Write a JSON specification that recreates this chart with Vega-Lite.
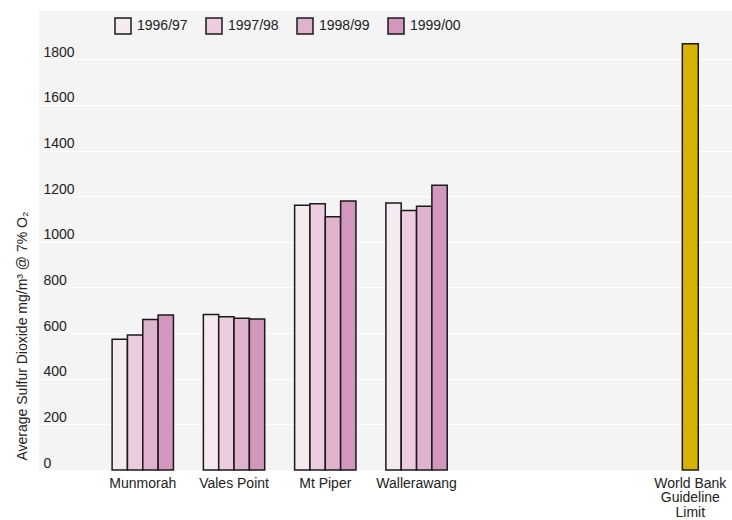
{
  "$schema": "https://vega.github.io/schema/vega-lite/v6.json",
  "width": 693,
  "height": 459,
  "autosize": {"type": "none"},
  "padding": {"left": 39, "top": 11, "right": 0, "bottom": 50},
  "background": "white",
  "config": {
    "font": "Liberation Sans",
    "view": {"fill": "#f4f4f4", "stroke": null},
    "axis": {"labelColor": "#222222", "titleColor": "#222222", "labelFontSize": 14, "titleFontSize": 14, "titleFontWeight": "normal"},
    "legend": {"labelColor": "#222222", "labelFontSize": 14}
  },
  "datasets": {
    "plants": [
      {"plant": "Munmorah", "year": "1996/97", "value": 573},
      {"plant": "Munmorah", "year": "1997/98", "value": 592},
      {"plant": "Munmorah", "year": "1998/99", "value": 660},
      {"plant": "Munmorah", "year": "1999/00", "value": 679},
      {"plant": "Vales Point", "year": "1996/97", "value": 682},
      {"plant": "Vales Point", "year": "1997/98", "value": 672},
      {"plant": "Vales Point", "year": "1998/99", "value": 665},
      {"plant": "Vales Point", "year": "1999/00", "value": 662},
      {"plant": "Mt Piper", "year": "1996/97", "value": 1160},
      {"plant": "Mt Piper", "year": "1997/98", "value": 1167},
      {"plant": "Mt Piper", "year": "1998/99", "value": 1110},
      {"plant": "Mt Piper", "year": "1999/00", "value": 1179},
      {"plant": "Wallerawang", "year": "1996/97", "value": 1170},
      {"plant": "Wallerawang", "year": "1997/98", "value": 1138},
      {"plant": "Wallerawang", "year": "1998/99", "value": 1156},
      {"plant": "Wallerawang", "year": "1999/00", "value": 1248}
    ],
    "limit": [
      {"plant": "World Bank Guideline Limit", "value": 1868}
    ]
  },
  "layer": [
    {
      "data": {"name": "plants"},
      "mark": {"type": "bar", "stroke": "#1a1a1a", "strokeWidth": 1.5},
      "encoding": {
        "x": {
          "field": "plant",
          "type": "nominal",
          "title": null,
          "scale": {
            "domain": ["Munmorah", "Vales Point", "Mt Piper", "Wallerawang", " ", "  ", "World Bank Guideline Limit"],
            "paddingInner": 0.328,
            "paddingOuter": 0.461,
            "align": 0.869
          },
          "axis": {
            "ticks": false,
            "domain": false,
            "grid": false,
            "labelAngle": 0,
            "labelPadding": 6,
            "labelLineHeight": 14.5,
            "labelExpr": "datum.value == 'World Bank Guideline Limit' ? ['World Bank', 'Guideline', 'Limit'] : datum.value"
          }
        },
        "xOffset": {
          "field": "year",
          "type": "nominal",
          "scale": {"paddingInner": 0, "paddingOuter": 0}
        },
        "y": {
          "field": "value",
          "type": "quantitative",
          "title": "Average Sulfur Dioxide mg/m³ @ 7% O₂",
          "scale": {"domain": [0, 2012], "nice": false},
          "axis": {
            "values": [0, 200, 400, 600, 800, 1000, 1200, 1400, 1600, 1800],
            "format": "d",
            "ticks": false,
            "domain": false,
            "gridColor": "white",
            "gridWidth": 1,
            "gridOpacity": 1,
            "labelAlign": "left",
            "labelPadding": -4,
            "labelBaseline": "alphabetic",
            "labelOffset": -3,
            "titleAngle": -90,
            "titleX": -17,
            "titleY": 449,
            "titleAlign": "left",
            "titleBaseline": "middle"
          }
        },
        "color": {
          "field": "year",
          "type": "nominal",
          "scale": {
            "domain": ["1996/97", "1997/98", "1998/99", "1999/00"],
            "range": ["#f6eaf1", "#ecccdf", "#dfb2cd", "#d396bd"]
          },
          "legend": {
            "title": null,
            "orient": "none",
            "legendX": 75,
            "legendY": 6,
            "direction": "horizontal",
            "symbolType": "square",
            "symbolSize": 256,
            "symbolStrokeColor": "#1a1a1a",
            "symbolStrokeWidth": 1.5,
            "symbolOpacity": 1,
            "labelOffset": 5,
            "columnPadding": 15
          }
        }
      }
    },
    {
      "data": {"name": "limit"},
      "mark": {"type": "bar", "fill": "#d6b400", "stroke": "#1a1a1a", "strokeWidth": 1.5, "width": {"band": 0.26}},
      "encoding": {
        "x": {"field": "plant", "type": "nominal"},
        "y": {"field": "value", "type": "quantitative"}
      }
    }
  ]
}
